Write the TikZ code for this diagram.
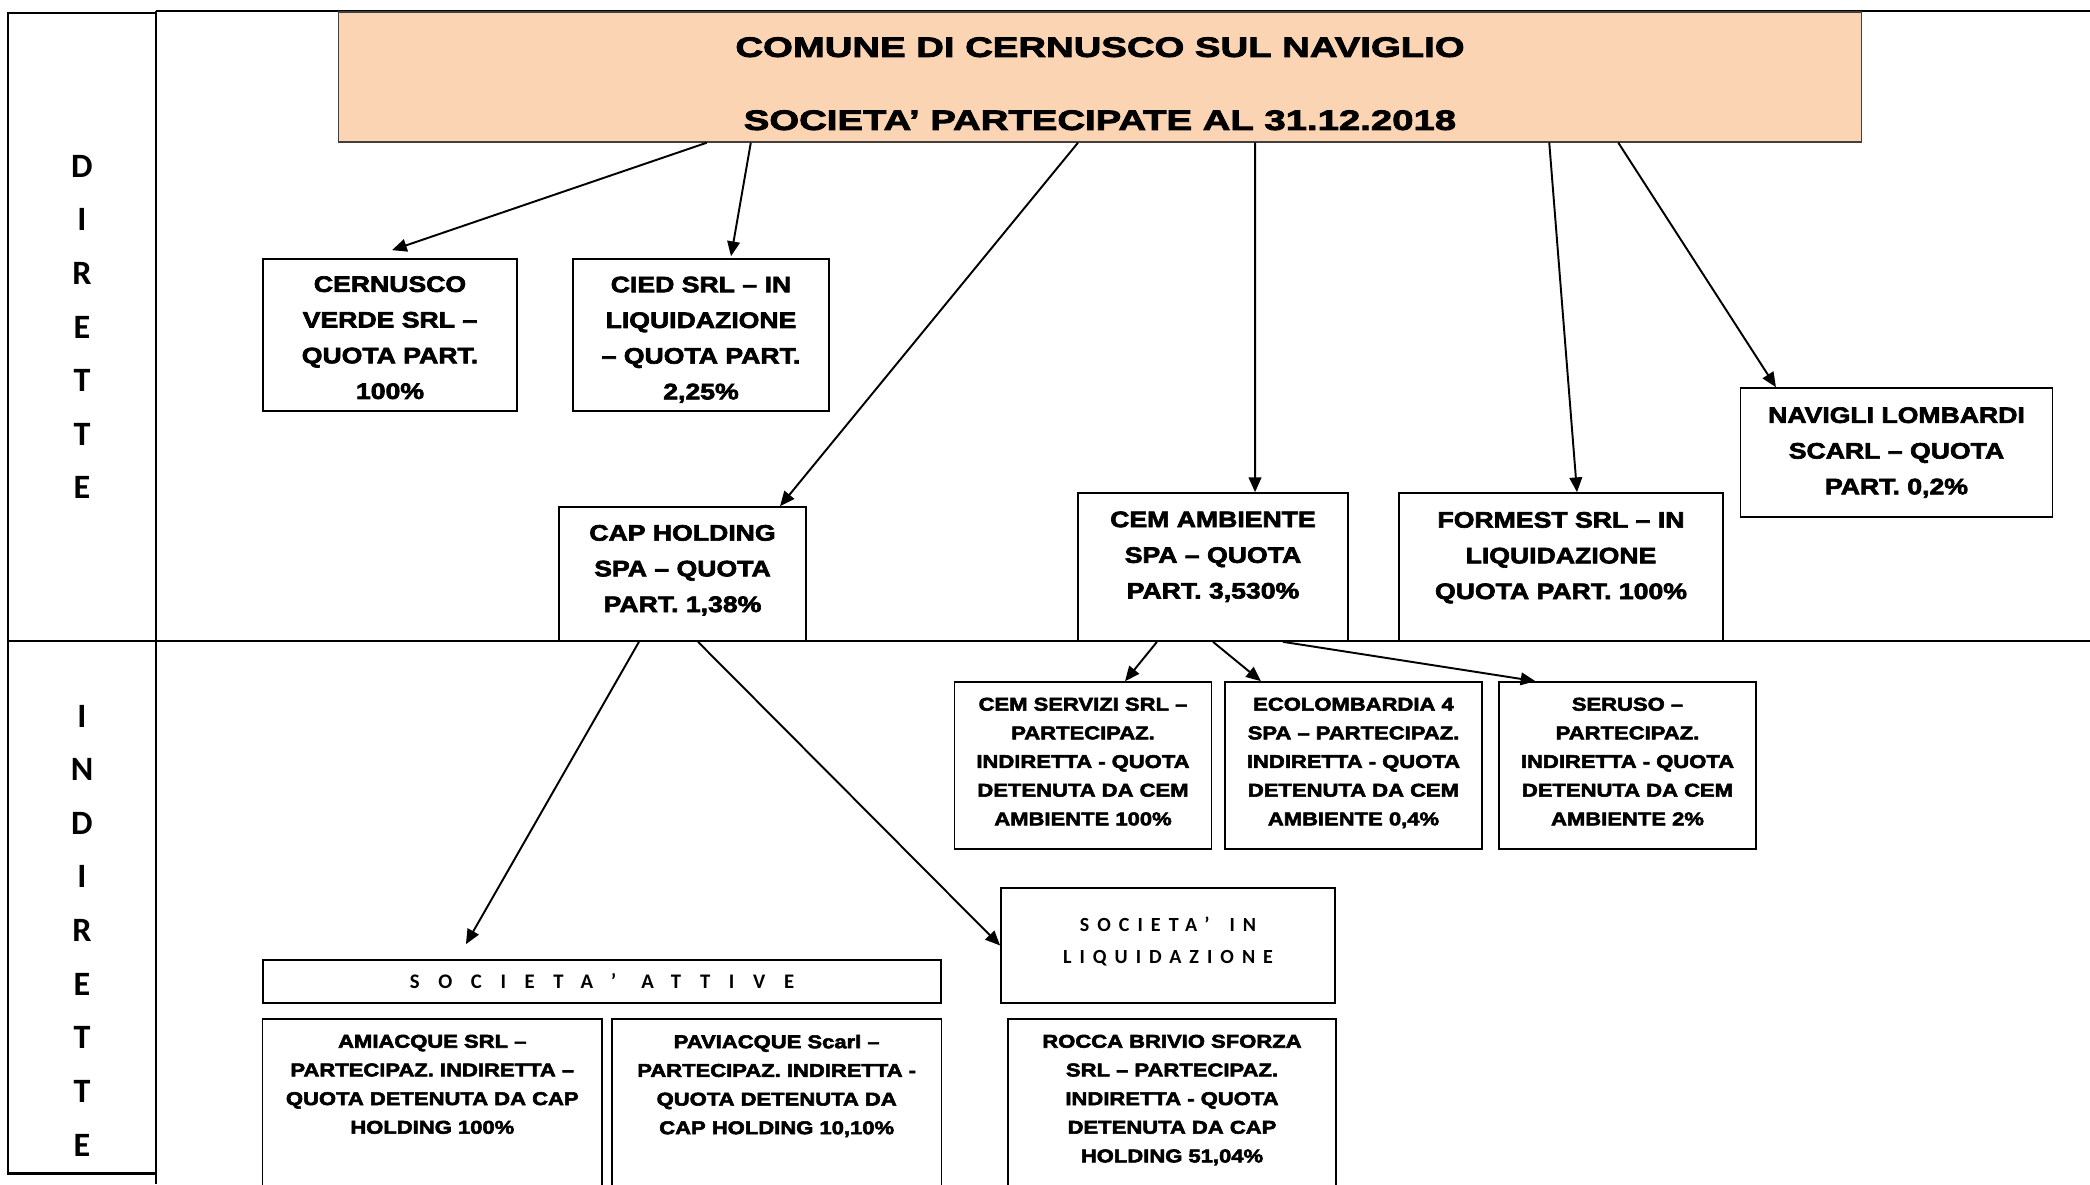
\documentclass[tikz,border=0pt]{standalone}
\usepackage{fontspec}
\usetikzlibrary{positioning, arrows.meta}
\newfontfamily\boxfont{Liberation Sans}[FakeStretch=1.19, BoldFeatures={FakeBold=3}]
\newfontfamily\headfont{Liberation Sans}[FakeStretch=1.37, BoldFeatures={FakeBold=3}]
\newfontfamily\sidefont{Carlito}
\newfontfamily\attivefont{Carlito}[LetterSpace=90]
\newfontfamily\liqfont{Carlito}[LetterSpace=40]
\definecolor{headpeach}{RGB}{251,212,180}
\newcommand{\padabove}[1]{\rule{0pt}{#1}}
\newcommand{\padbelow}[1]{\rule[-#1]{0pt}{#1}}

\begin{document}
\begin{tikzpicture}[x=0.01cm, y=-0.01cm,
  frame/.style={line width=0.8pt},
  box/.style={draw, line width=0.45pt, align=center, inner sep=0pt},
  dirbox/.style={box, font=\boxfont\bfseries\fontsize{6.36}{10.15}\selectfont},
  indbox/.style={box, font=\boxfont\bfseries\fontsize{5.26}{8.15}\selectfont},
  lowbox/.style={indbox, anchor=north, inner ysep=0.16cm, text depth=2cm},
  side/.style={align=center, font=\sidefont\bfseries\fontsize{9.7}{15.25}\selectfont},
  link/.style={-{Triangle[length=4.2pt,width=3.6pt]}, line width=0.55pt}]
\useasboundingbox (0,0) rectangle (2090,1184);
\clip (0,0) rectangle (2090,1184);

\draw[frame] (8,13) rectangle (156,1173.5);
\draw[frame] (8,641) -- (2090,641);
\draw[frame] (156,11) -- (2090,11);
\draw[frame] (156,11) -- (156,1184);

\node[side] at (82,327) (dirlabel) {D\\I\\R\\E\\T\\T\\E};
\node[side] at (82,930.5) (indlabel) {I\\N\\D\\I\\R\\E\\T\\T\\E};

\node[draw=black!75, fill=headpeach, line width=0.45pt, minimum width=15.22cm, minimum height=1.26cm, align=center, font=\headfont\bfseries\fontsize{7.95}{20.77}\selectfont] at (1100,77) (head) {\padabove{0.33cm}COMUNE DI CERNUSCO SUL NAVIGLIO\\SOCIETA’ PARTECIPATE AL 31.12.2018};

\node[dirbox, minimum width=2.54cm, minimum height=1.52cm] at (390,335) (cverde) {\padabove{0.21cm}CERNUSCO\\VERDE SRL –\\QUOTA PART.\\100\%};
\node[dirbox, minimum width=2.56cm, minimum height=1.52cm] at (701,335) (cied) {\padabove{0.25cm}CIED SRL – IN\\LIQUIDAZIONE\\– QUOTA PART.\\2,25\%};
\node[dirbox, minimum width=2.47cm, minimum height=1.34cm] at (682.5,574) (cap) {CAP HOLDING\\SPA – QUOTA\\PART. 1,38\%\padbelow{0.11cm}};
\node[dirbox, minimum width=2.70cm, minimum height=1.48cm] at (1213,567) (cem) {CEM AMBIENTE\\SPA – QUOTA\\PART. 3,530\%\padbelow{0.24cm}};
\node[dirbox, minimum width=3.24cm, minimum height=1.48cm] at (1561,567) (formest) {FORMEST SRL – IN\\LIQUIDAZIONE\\QUOTA PART. 100\%\padbelow{0.23cm}};
\node[dirbox, minimum width=3.12cm, minimum height=1.29cm] at (1896.5,452.5) (navigli) {NAVIGLI LOMBARDI\\SCARL – QUOTA\\PART. 0,2\%};

\node[indbox, minimum width=2.57cm, minimum height=1.67cm] at (1083,765.5) (cemserv) {CEM SERVIZI SRL –\\PARTECIPAZ.\\INDIRETTA - QUOTA\\DETENUTA DA CEM\\AMBIENTE 100\%\padbelow{0.08cm}};
\node[indbox, minimum width=2.57cm, minimum height=1.67cm] at (1353.5,765.5) (ecolomb) {ECOLOMBARDIA 4\\SPA – PARTECIPAZ.\\INDIRETTA - QUOTA\\DETENUTA DA CEM\\AMBIENTE 0,4\%\padbelow{0.08cm}};
\node[indbox, minimum width=2.57cm, minimum height=1.67cm] at (1627.5,765.5) (seruso) {SERUSO –\\PARTECIPAZ.\\INDIRETTA - QUOTA\\DETENUTA DA CEM\\AMBIENTE 2\%\padbelow{0.08cm}};

\node[box, minimum width=6.78cm, minimum height=0.43cm, font=\attivefont\bfseries\fontsize{5.89}{8}\selectfont] at (602,981.5) (attive) {SOCIETA’\hspace{0.25cm}ATTIVE};
\node[box, minimum width=3.34cm, minimum height=1.15cm, font=\liqfont\bfseries\fontsize{5.7}{9.1}\selectfont] at (1168,945.5) (liquid) {SOCIETA’\hspace{0.2cm}IN\\LIQUIDAZIONE\padbelow{0.11cm}};

\node[lowbox, minimum width=3.39cm] at (432.3,1018) (amiacque) {AMIACQUE SRL –\\PARTECIPAZ. INDIRETTA –\\QUOTA DETENUTA DA CAP\\HOLDING 100\%};
\node[lowbox, minimum width=3.29cm] at (776.7,1018) (paviacque) {PAVIACQUE Scarl –\\PARTECIPAZ. INDIRETTA -\\QUOTA DETENUTA DA\\CAP HOLDING 10,10\%};
\node[lowbox, minimum width=3.28cm] at (1172,1018) (rocca) {ROCCA BRIVIO SFORZA\\SRL – PARTECIPAZ.\\INDIRETTA - QUOTA\\DETENUTA DA CAP\\HOLDING 51,04\%};

\draw[link] ([xshift=-3.93cm]head.south) -- ([xshift=0.02cm, yshift=0.08cm]cverde.north);
\draw[link] ([xshift=-3.49cm]head.south) -- ([xshift=0.30cm, yshift=0.02cm]cied.north);
\draw[link] ([xshift=-0.22cm]head.south) -- ([xshift=0.975cm]cap.north);
\draw[link] ([xshift=1.55cm]head.south) -- ([xshift=0.42cm]cem.north);
\draw[link] ([xshift=4.49cm]head.south) -- ([xshift=0.16cm]formest.north);
\draw[link] ([xshift=5.18cm]head.south) -- ([xshift=-1.205cm]navigli.north);
\draw[link] ([xshift=-0.435cm]cap.south) -- ([xshift=-1.36cm, yshift=0.15cm]attive.north);
\draw[link] ([xshift=0.155cm]cap.south) -- (liquid.west);
\draw[link] ([xshift=-0.56cm]cem.south) -- ([xshift=0.42cm]cemserv.north);
\draw[link] (cem.south) -- ([xshift=-0.925cm]ecolomb.north);
\draw[link] ([xshift=0.70cm]cem.south) -- ([xshift=-0.92cm]seruso.north);
\end{tikzpicture}
\end{document}
